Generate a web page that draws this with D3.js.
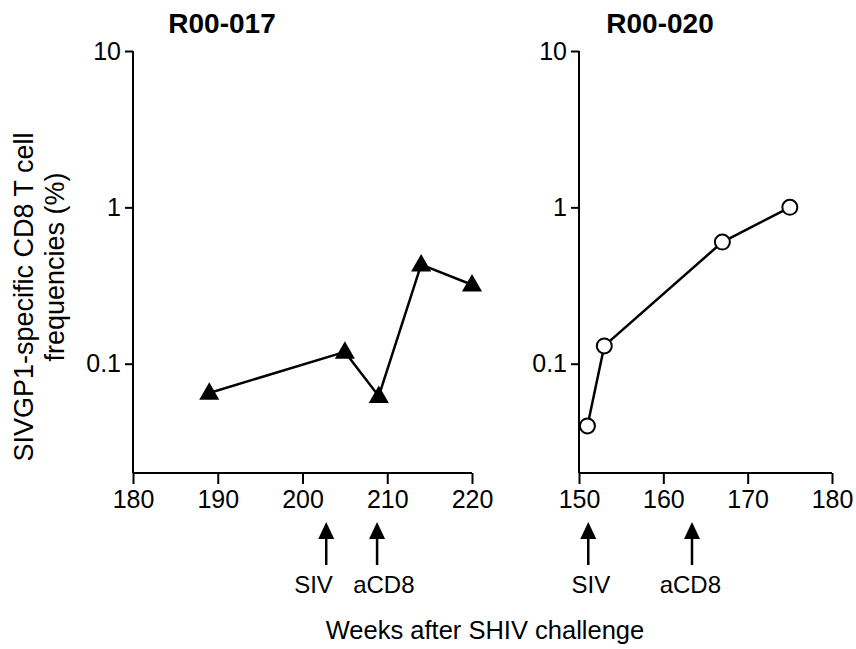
<!DOCTYPE html>
<html lang="en">
  <head>
    <meta charset="UTF-8" />
    <title>SIVGP1-specific CD8 T cell frequencies</title>
    <style>
      body { margin: 0; background: #fff; }
      svg { font-family: "Liberation Sans", Arial, sans-serif; }
      .axis path, .axis line { stroke: #000; stroke-width: 2; }
      .axis text { font-size: 25px; fill: #000; }
      .title { font-size: 28px; font-weight: bold; text-anchor: middle; }
      .series { fill: none; stroke: #000; stroke-width: 2.5; }
    </style>
  </head>
  <body>
    <svg width="856" height="649"></svg>
    <script src="https://d3js.org/d3.v7.min.js"></script>
    <script>
      // R00-017 (triangles)
      const weeks017 = [189, 205, 209, 214, 220];
      const freq017 = [0.065, 0.119, 0.062, 0.43, 0.32];
      // R00-020 (open circles)
      const weeks020 = [151, 153, 167, 175];
      const freq020 = [0.040, 0.130, 0.60, 1.0];

      const yTicks = [0.1, 1, 10];
      const xTicks017 = [180, 190, 200, 210, 220];
      const xTicks020 = [150, 160, 170, 180];

      // treatment arrows: week of event, week where the label sits
      const events017 = [
        { label: "SIV", week: 202.8, labelWeek: 201.3 },
        { label: "aCD8", week: 208.8, labelWeek: 209.6 },
      ];
      const events020 = [
        { label: "SIV", week: 151.1, labelWeek: 151.4 },
        { label: "aCD8", week: 163.4, labelWeek: 163.2 },
      ];

      const svg = d3.select("svg");
      const yTop = 51, yBottom = 473;

      const y = d3.scaleLog().domain([0.02, 10]).range([yBottom, yTop]);

      const panels = [
        { title: "R00-017", titleX: 222, x0: 133, x1: 472, domain: [180, 220],
          ticks: xTicks017, weeks: weeks017, freq: freq017, marker: "triangle", events: events017 },
        { title: "R00-020", titleX: 660, x0: 579, x1: 832, domain: [150, 180],
          ticks: xTicks020, weeks: weeks020, freq: freq020, marker: "circle", events: events020 },
      ];

      panels.forEach((p) => {
        const x = d3.scaleLinear().domain(p.domain).range([p.x0, p.x1]);
        const g = svg.append("g");

        g.append("g")
          .attr("class", "axis")
          .attr("transform", `translate(0,${yBottom})`)
          .call(d3.axisBottom(x).tickValues(p.ticks).tickSize(11).tickPadding(6).tickSizeOuter(0))
          .call((a) => a.select(".domain").attr("d", `M${p.x0},0H${p.x1}`));

        g.append("g")
          .attr("class", "axis")
          .attr("transform", `translate(${p.x0},0)`)
          .call(
            d3.axisLeft(y).tickValues(yTicks).tickSize(8).tickPadding(4).tickSizeOuter(0)
              .tickFormat((d) => String(d))
          )
          .call((a) => a.select(".domain").attr("d", `M0,${yTop}V${yBottom}`));

        g.selectAll(".axis").attr("font-family", null).attr("font-size", null);

        g.append("text")
          .attr("class", "title")
          .attr("x", p.titleX)
          .attr("y", 33)
          .text(p.title);

        const pts = p.weeks.map((w, i) => [x(w), y(p.freq[i])]);

        g.append("path").attr("class", "series").attr("d", d3.line()(pts));

        if (p.marker === "triangle") {
          g.selectAll(".mk")
            .data(pts)
            .join("path")
            .attr("transform", (d) => `translate(${d[0]},${d[1] + 1})`)
            .attr("d", d3.symbol(d3.symbolTriangle, 175))
            .attr("fill", "#000");
        } else {
          g.selectAll(".mk")
            .data(pts)
            .join("circle")
            .attr("cx", (d) => d[0])
            .attr("cy", (d) => d[1])
            .attr("r", 7.5)
            .attr("fill", "#fff")
            .attr("stroke", "#000")
            .attr("stroke-width", 2);
        }

        const ev = g.selectAll(".ev").data(p.events).join("g");
        ev.append("line")
          .attr("x1", (d) => x(d.week))
          .attr("x2", (d) => x(d.week))
          .attr("y1", 535)
          .attr("y2", 565)
          .attr("stroke", "#000")
          .attr("stroke-width", 2.5);
        ev.append("path")
          .attr("d", (d) => `M${x(d.week)},522L${x(d.week) + 8},539L${x(d.week) - 8},539Z`)
          .attr("fill", "#000");
        ev.append("text")
          .attr("x", (d) => x(d.labelWeek))
          .attr("y", 593)
          .attr("text-anchor", "middle")
          .attr("font-size", 24)
          .text((d) => d.label);
      });

      svg.append("text")
        .attr("x", 485)
        .attr("y", 639)
        .attr("text-anchor", "middle")
        .attr("font-size", 25.5)
        .text("Weeks after SHIV challenge");

      const yl = svg.append("text")
        .attr("transform", "translate(0,297) rotate(-90)")
        .attr("text-anchor", "middle")
        .attr("font-size", 27);
      yl.append("tspan").attr("x", 0).attr("y", 33).text("SIVGP1-specific CD8 T cell");
      yl.append("tspan").attr("x", 30).attr("y", 64).text("frequencies (%)");
    </script>
  </body>
</html>
